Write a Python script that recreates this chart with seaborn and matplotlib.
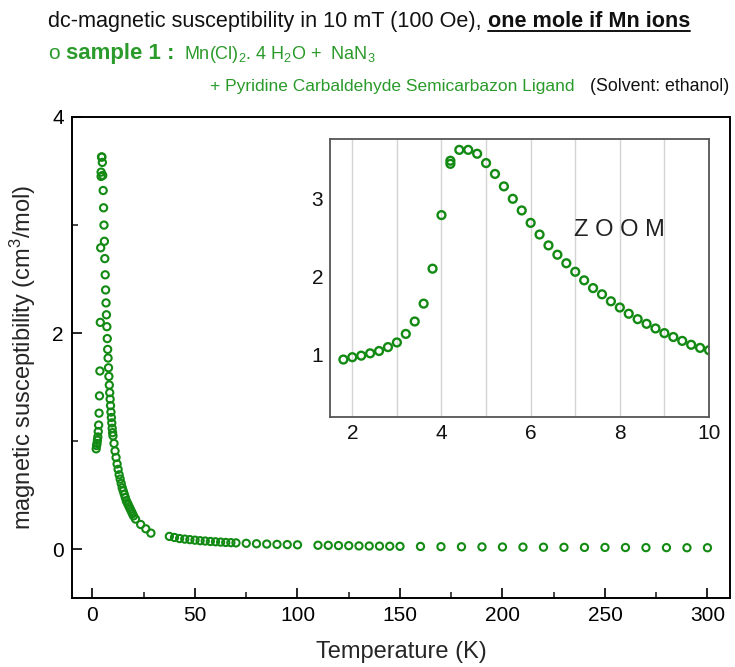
import matplotlib
matplotlib.use("Agg")
import matplotlib.pyplot as plt
import seaborn as sns
import pandas as pd
from matplotlib.lines import Line2D
from matplotlib.ticker import MultipleLocator

# ---------------- data ----------------
low_T = [1.8, 2.0, 2.2, 2.4, 2.6, 2.8, 3.0, 3.2, 3.4, 3.6, 3.8, 4.0, 4.2, 4.2,
         4.4, 4.6, 4.8, 5.0, 5.2, 5.4, 5.6, 5.8, 6.0, 6.2, 6.4, 6.6, 6.8, 7.0,
         7.2, 7.4, 7.6, 7.8, 8.0, 8.2, 8.4, 8.6, 8.8, 9.0, 9.2, 9.4, 9.6, 9.8, 10.0]
low_chi = [0.93, 0.96, 0.98, 1.01, 1.04, 1.09, 1.15, 1.26, 1.42, 1.65, 2.10, 2.79, 3.45, 3.49,
           3.63, 3.63, 3.58, 3.46, 3.32, 3.16, 3.00, 2.85, 2.69, 2.54, 2.40, 2.28, 2.17, 2.06,
           1.95, 1.85, 1.77, 1.68, 1.60, 1.52, 1.45, 1.39, 1.33, 1.27, 1.22, 1.17, 1.12, 1.08, 1.05]

mid_T = [10.5, 11.0, 11.5, 12.0, 12.5, 13.0, 13.5, 14.0, 14.5, 15.0, 15.5, 16.0,
         16.5, 17.0, 17.5, 18.0, 18.5, 19.0, 19.5, 20.0, 21.0, 23.5, 26.0, 28.5]
mid_chi = [0.98, 0.91, 0.85, 0.79, 0.74, 0.69, 0.65, 0.61, 0.57, 0.54, 0.51, 0.48,
           0.45, 0.43, 0.41, 0.39, 0.37, 0.35, 0.33, 0.31, 0.28, 0.23, 0.19, 0.15]

high_T = [37.5, 40, 42.5, 45, 47.5, 50, 52.5, 55, 57.5, 60, 62.5, 65, 67.5, 70,
          75, 80, 85, 90, 95, 100,
          110, 115, 120, 125, 130, 135, 140, 145, 150,
          160, 170, 180, 190, 200, 210, 220, 230, 240, 250, 260, 270, 280, 290, 300]
high_chi = [0.12, 0.11, 0.10, 0.095, 0.09, 0.085, 0.08, 0.077, 0.073, 0.07, 0.067, 0.064, 0.062, 0.06,
            0.056, 0.052, 0.049, 0.046, 0.044, 0.042,
            0.038, 0.037, 0.035, 0.034, 0.032, 0.031, 0.030, 0.029, 0.028,
            0.027, 0.025, 0.024, 0.023, 0.022, 0.021, 0.020, 0.019, 0.018, 0.018,
            0.017, 0.016, 0.016, 0.015, 0.015]

main_x_ticks = [0, 50, 100, 150, 200, 250, 300]
main_y_ticks = [0, 2, 4]
inset_x_ticks = [2, 4, 6, 8, 10]
inset_y_ticks = [1, 2, 3]

title_plain = "dc-magnetic susceptibility in 10 mT (100 Oe), "
title_bold = "one mole if Mn ions"
sample_label = "sample 1 :"
formula = "Mn(Cl)$_2$. 4 H$_2$O +  NaN$_3$"
ligand = "+ Pyridine Carbaldehyde Semicarbazon Ligand"
solvent = "(Solvent: ethanol)"

# ---------------- style ----------------
sns.set_style("white")
plt.rcParams["font.family"] = ["Liberation Sans", "DejaVu Sans"]
plt.rcParams["mathtext.fontset"] = "custom"
plt.rcParams["mathtext.rm"] = "Liberation Sans"
plt.rcParams["mathtext.it"] = "Liberation Sans:italic"
plt.rcParams["mathtext.bf"] = "Liberation Sans:bold"

GREEN = "#138a13"
TGREEN = "#2a9a2a"

main_df = pd.DataFrame({"T": low_T + mid_T + high_T, "chi": low_chi + mid_chi + high_chi})
inset_df = pd.DataFrame({"T": low_T, "chi": low_chi})

W, H = 735, 667
fig = plt.figure(figsize=(W / 100, H / 100), dpi=100)
fig.patch.set_facecolor("white")

# ---------------- main axes ----------------
ax = fig.add_axes([72 / W, 1 - 598 / H, 658 / W, 481 / H])
sns.scatterplot(data=main_df, x="T", y="chi", ax=ax, marker="o", s=27,
                facecolor="none", edgecolor=GREEN, linewidth=1.5, legend=False)
ax.set_xlim(-10, 311)
ax.set_ylim(-0.45, 4)
ax.set_xticks(main_x_ticks)
ax.set_yticks(main_y_ticks)
ax.xaxis.set_minor_locator(MultipleLocator(25))
ax.yaxis.set_minor_locator(MultipleLocator(1))
ax.tick_params(which="major", direction="in", length=7, width=1.2, labelsize=15,
               colors="black", pad=6)
ax.tick_params(which="minor", direction="in", length=4, width=1.2)
ax.tick_params(axis="x", which="both", bottom=True, top=False)
ax.tick_params(axis="y", which="both", left=True, right=False)
for sp in ax.spines.values():
    sp.set_color("black")
    sp.set_linewidth(1.4)
ax.set_xlabel("Temperature (K)", fontsize=17, labelpad=11)
ax.set_ylabel("magnetic susceptibility (cm$^3$/mol)", fontsize=17, labelpad=10)

# ---------------- inset ----------------
axi = fig.add_axes([330 / W, 1 - 417 / H, 379 / W, 278 / H])
axi.set_facecolor("white")
sns.scatterplot(data=inset_df, x="T", y="chi", ax=axi, marker="o", s=32,
                facecolor="none", edgecolor=GREEN, linewidth=1.7, legend=False)
axi.set_xlim(1.5, 10)
axi.set_ylim(0.19, 3.77)
axi.set_xticks(inset_x_ticks)
axi.set_yticks(inset_y_ticks)
axi.xaxis.set_minor_locator(MultipleLocator(1))
axi.yaxis.set_minor_locator(MultipleLocator(0.5))
axi.grid(axis="x", which="both", color="#d4d4d4", linewidth=1.0)
axi.set_axisbelow(True)
axi.tick_params(which="major", direction="in", length=5, width=1.0, labelsize=15,
                color="#555555", labelcolor="#111111", pad=5)
axi.tick_params(which="minor", direction="in", length=3, width=1.0, color="#555555")
for sp in axi.spines.values():
    sp.set_color("#555555")
    sp.set_linewidth(1.3)
axi.set_xlabel("")
axi.set_ylabel("")
axi.text(8.0, 2.60, "Z O O M", fontsize=17, color="#222222", ha="center", va="center")

# ---------------- header text ----------------
renderer = fig.canvas.get_renderer()


def put(x_px, y_px, s, **kw):
    t = fig.text(x_px / W, 1 - y_px / H, s, ha="left", va="baseline", **kw)
    bb = t.get_window_extent(renderer)
    return t, bb


_, b1 = put(48, 27, title_plain, fontsize=15.6, color="#111111")
_, b2 = put(b1.x1, 27, title_bold, fontsize=15.6, color="#111111", fontweight="bold")
fig.add_artist(Line2D([b2.x0 / W, b2.x1 / W], [(H - 30.5) / H, (H - 30.5) / H],
                      transform=fig.transFigure, color="#111111", linewidth=1.4))

_, b3 = put(48, 59, "o", fontsize=15, color=TGREEN)
_, b4 = put(b3.x1 + 6, 59, sample_label, fontsize=16, color=TGREEN, fontweight="bold")
_, b5 = put(b4.x1 + 10, 59, formula, fontsize=13, color=TGREEN)

t7, b7 = put(0, 91, solvent, fontsize=12.8, color="#111111")
sw = b7.x1 - b7.x0
t7.set_x((729 - sw) / W)
t6 = fig.text(0, 1 - 91 / H, ligand, ha="left", va="baseline", fontsize=12.5, color=TGREEN)
lw6 = t6.get_window_extent(renderer).width
t6.set_x((729 - sw - 15 - lw6) / W)

fig.savefig("out.png", dpi=100)
